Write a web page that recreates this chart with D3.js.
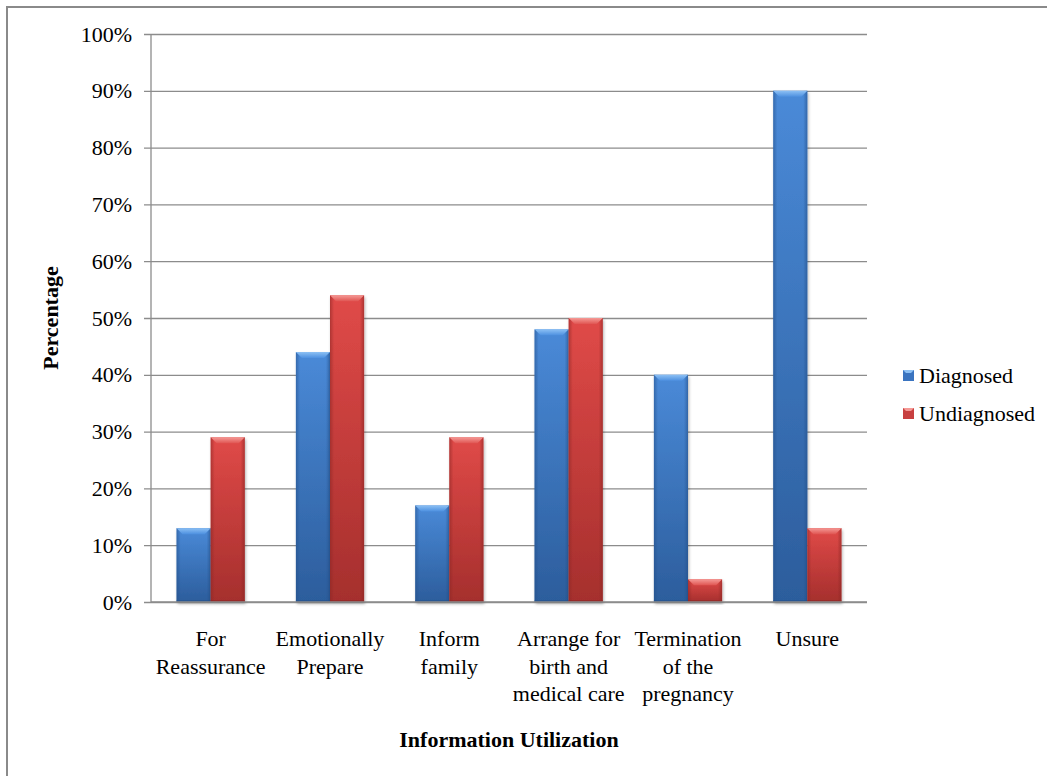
<!DOCTYPE html>
<html>
<head>
<meta charset="utf-8">
<script src="https://cdn.jsdelivr.net/npm/d3@7"></script>
<style>
  html, body { margin: 0; padding: 0; background: #fff; }
  svg { display: block; }
  text { font-family: "Liberation Serif", "Times New Roman", serif; fill: #000; }
</style>
</head>
<body>
<svg id="chart" width="1047" height="776"></svg>
<script>
// Survey results: how expectant parents used prenatal information
const categories = [
  ["For", "Reassurance"],
  ["Emotionally", "Prepare"],
  ["Inform", "family"],
  ["Arrange for", "birth and", "medical care"],
  ["Termination", "of the", "pregnancy"],
  ["Unsure"]
];
const seriesNames = ["Diagnosed", "Undiagnosed"];
const diagnosed   = [13, 44, 17, 48, 40, 90];
const undiagnosed = [29, 54, 29, 50, 4, 13];
const yTicks = [0, 10, 20, 30, 40, 50, 60, 70, 80, 90, 100];

const W = 1047, H = 776;
const plot = { left: 151, right: 867, top: 34, bottom: 602 };

const svg = d3.select("#chart");

// chart frame
svg.append("rect")
  .attr("x", 7).attr("y", 7)
  .attr("width", W + 10).attr("height", H + 10)
  .attr("fill", "#fff")
  .attr("stroke", "#8a8a8a").attr("stroke-width", 2);

const defs = svg.append("defs");
const palette = {
  Diagnosed:   { top: "#4a8ad8", bottom: "#2c5d9c", bevel: ["#8cc0f4", "#4d90e0"], side: "#24508a", key: "#3a74c0" },
  Undiagnosed: { top: "#e04a48", bottom: "#a52f2d", bevel: ["#f59a96", "#e05552"], side: "#8c2624", key: "#c84040" }
};
seriesNames.forEach((s, i) => {
  const p = palette[s];
  const g = defs.append("linearGradient").attr("id", "body" + i)
    .attr("x1", 0).attr("y1", 0).attr("x2", 0).attr("y2", 1);
  g.append("stop").attr("offset", "0%").attr("stop-color", p.top);
  g.append("stop").attr("offset", "100%").attr("stop-color", p.bottom);
  const b = defs.append("linearGradient").attr("id", "bevel" + i)
    .attr("x1", 0).attr("y1", 0).attr("x2", 0).attr("y2", 1);
  b.append("stop").attr("offset", "0%").attr("stop-color", p.bevel[0]);
  b.append("stop").attr("offset", "100%").attr("stop-color", p.bevel[1]);
  const h = defs.append("linearGradient").attr("id", "sheen" + i)
    .attr("x1", 0).attr("y1", 0).attr("x2", 1).attr("y2", 0);
  h.append("stop").attr("offset", "0%").attr("stop-color", p.side).attr("stop-opacity", 0.55);
  h.append("stop").attr("offset", "12%").attr("stop-color", p.side).attr("stop-opacity", 0);
  h.append("stop").attr("offset", "88%").attr("stop-color", p.side).attr("stop-opacity", 0);
  h.append("stop").attr("offset", "100%").attr("stop-color", p.side).attr("stop-opacity", 0.6);
});
const shadow = defs.append("filter").attr("id", "shadow")
  .attr("x", "-20%").attr("y", "-5%").attr("width", "140%").attr("height", "115%");
shadow.append("feDropShadow").attr("dx", 1).attr("dy", 2).attr("stdDeviation", 1.5)
  .attr("flood-color", "#000").attr("flood-opacity", 0.3);

// scales
const x0 = d3.scaleBand()
  .domain(d3.range(categories.length))
  .range([plot.left, plot.right])
  .paddingInner(1.5 / 3.5)
  .paddingOuter(0.75 / 3.5);
const x1 = d3.scaleBand().domain(seriesNames).range([0, x0.bandwidth()]);
const y = d3.scaleLinear().domain([0, 100]).range([plot.bottom, plot.top]);

// gridlines + y axis
const yAxis = d3.axisLeft(y)
  .tickValues(yTicks)
  .tickFormat(d => d + "%")
  .tickSize(-(plot.right - plot.left))
  .tickPadding(19);
const yg = svg.append("g").attr("transform", `translate(${plot.left},0)`).call(yAxis);
yg.select(".domain").remove();
yg.selectAll(".tick line").attr("stroke", "#8c8c8c").attr("stroke-width", 1.3)
  .attr("x1", -7);
yg.selectAll(".tick text")
  .attr("font-size", 22)
  .attr("font-family", "Liberation Serif")
  .attr("fill", "#000");

svg.append("line")
  .attr("x1", plot.left).attr("x2", plot.left)
  .attr("y1", plot.top).attr("y2", plot.bottom)
  .attr("stroke", "#8c8c8c").attr("stroke-width", 1.3);

// bars
const rows = categories.map((c, i) => ({ i, values: [diagnosed[i], undiagnosed[i]] }));
const groups = svg.append("g").selectAll("g").data(rows).join("g")
  .attr("transform", d => `translate(${x0(d.i)},0)`);

groups.each(function (d) {
  const g = d3.select(this);
  d.values.forEach((v, si) => {
    const s = seriesNames[si];
    const bx = x1(s), bw = x1.bandwidth();
    const by = y(v), bh = y(0) - y(v);
    const bar = g.append("g");
    bar.append("rect").attr("x", bx).attr("y", by).attr("width", bw).attr("height", bh)
      .attr("fill", `url(#body${si})`).attr("filter", "url(#shadow)");
    bar.append("rect").attr("x", bx).attr("y", by).attr("width", bw).attr("height", bh)
      .attr("fill", `url(#sheen${si})`);
    const bev = Math.min(6, bh / 2);
    bar.append("path")
      .attr("d", `M${bx},${by} L${bx + bw},${by} L${bx + bw - bev},${by + bev} L${bx + bev},${by + bev} Z`)
      .attr("fill", `url(#bevel${si})`);
    bar.append("rect").attr("x", bx).attr("y", y(0) - 2).attr("width", bw).attr("height", 2)
      .attr("fill", palette[s].side).attr("opacity", 0.5);
  });
});

// x-axis baseline
svg.append("line")
  .attr("x1", plot.left).attr("x2", plot.right)
  .attr("y1", plot.bottom).attr("y2", plot.bottom)
  .attr("stroke", "#8c8c8c").attr("stroke-width", 1.3);

// category labels
const xl = svg.append("g");
categories.forEach((lines, i) => {
  const t = xl.append("text")
    .attr("text-anchor", "middle")
    .attr("font-size", 22)
    .attr("x", x0(i) + x0.bandwidth() / 2)
    .attr("y", 646);
  lines.forEach((ln, k) => {
    t.append("tspan").attr("x", x0(i) + x0.bandwidth() / 2)
      .attr("dy", k === 0 ? 0 : 27.5).text(ln);
  });
});

// axis titles
svg.append("text")
  .attr("x", (plot.left + plot.right) / 2).attr("y", 747)
  .attr("text-anchor", "middle").attr("font-size", 22).attr("font-weight", "bold")
  .text("Information Utilization");
svg.append("text")
  .attr("transform", `translate(58,${(plot.top + plot.bottom) / 2}) rotate(-90)`)
  .attr("text-anchor", "middle").attr("font-size", 22).attr("font-weight", "bold")
  .text("Percentage");

// legend
const legend = svg.append("g").attr("transform", "translate(903,370)");
seriesNames.forEach((s, i) => {
  const lg = legend.append("g").attr("transform", `translate(0,${i * 38})`);
  lg.append("rect").attr("width", 11).attr("height", 11)
    .attr("fill", palette[s].key);
  lg.append("path").attr("d", "M0,0 L11,0 L8,3 L3,3 Z").attr("fill", palette[s].bevel[0]);
  lg.append("text").attr("x", 16).attr("y", 13).attr("font-size", 22).text(s);
});
</script>
</body>
</html>
